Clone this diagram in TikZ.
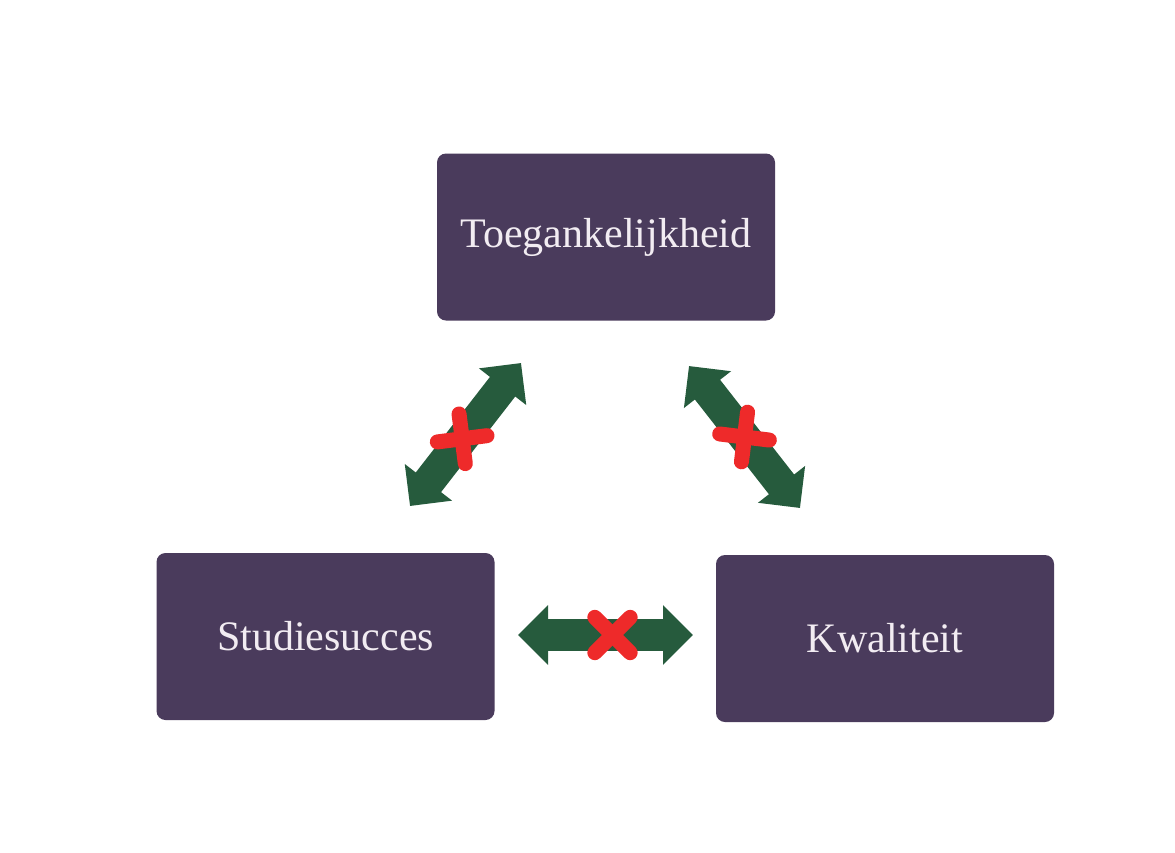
\documentclass[tikz,border=0pt]{standalone}
\usepackage{fontspec}
\setmainfont{Liberation Serif}
\usetikzlibrary{arrows.meta,calc}
\definecolor{boxfill}{HTML}{4A3B5C}
\definecolor{arrowgreen}{HTML}{265B3D}
\definecolor{crossred}{HTML}{EE2A2A}
\definecolor{txt}{HTML}{F2ECF2}
\tikzset{
  box/.style={draw=none, fill=boxfill, rounded corners=9pt, minimum width=338pt, minimum height=167pt, inner sep=0pt, text=txt, font=\fontsize{42}{42}\selectfont},
  dblarrow/.style={draw=arrowgreen, line width=32pt, line cap=butt, {Triangle[length=30pt,width=58pt]}-{Triangle[length=30pt,width=58pt]}},
  crossline/.style={draw=crossred, line width=15pt, line cap=round}
}
\newcommand{\crossmark}[4]{%
  \coordinate (#3) at ($(#1)!#4!(#2)$);
  \draw[crossline] ($(#3)!25pt!45:(#2)$) -- ($(#3)!25pt!225:(#2)$);
  \draw[crossline] ($(#3)!25pt!-45:(#2)$) -- ($(#3)!25pt!135:(#2)$);
}
\begin{document}
\begin{tikzpicture}[x=1pt,y=-1pt]
\useasboundingbox[fill=white] (0,0) rectangle (1175,852);
\node[box] (t) at (606,237) {Toegankelijkheid};
\node[box] (s) at (325.5,636.5) {Studiesucces};
\node[box] (k) at (885,638.5) {Kwaliteit};
\coordinate (a1) at (410,506);
\coordinate (a2) at (521,363);
\coordinate (b1) at (689,366);
\coordinate (b2) at (800,508);
\coordinate (c1) at (518,635);
\coordinate (c2) at (693,635);
\draw[dblarrow] (a1) -- (a2);
\draw[dblarrow] (b1) -- (b2);
\draw[dblarrow] (c1) -- (c2);
\crossmark{a1}{a2}{am}{0.47}
\crossmark{b1}{b2}{bm}{0.5}
\crossmark{c1}{c2}{cm}{0.54}
\end{tikzpicture}
\end{document}
